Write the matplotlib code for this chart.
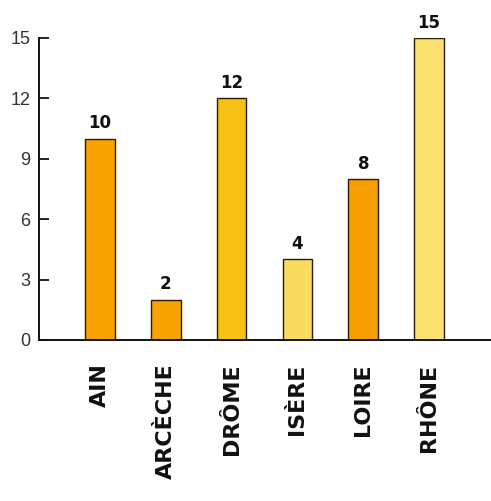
import matplotlib
matplotlib.use("Agg")
import matplotlib.pyplot as plt

categories = ["AIN", "ARCÈCHE", "DRÔME", "ISÈRE", "LOIRE", "RHÔNE"]
values = [10, 2, 12, 4, 8, 15]
colors = ["#F8A200", "#F7A400", "#F8C214", "#FADC5E", "#F79F00", "#FBE26E"]
yticks = [0, 3, 6, 9, 12, 15]

fig = plt.figure(figsize=(4.91, 5.01), dpi=100)
ax = fig.add_axes([39/491, 161/501, 452/491, 302/501])

x = list(range(len(categories)))
ax.bar(x, values, width=0.45, color=colors, edgecolor="#2a1a00", linewidth=1.0, zorder=2)

for xi, v in zip(x, values):
    ax.annotate(str(v), (xi, v), xytext=(0, 4.5), textcoords="offset points",
                ha="center", va="bottom", fontsize=12, fontweight="bold",
                family="DejaVu Sans", color="#111111", annotation_clip=False)

ax.set_xlim(-0.927, 5.94)
ax.set_ylim(0, 15)
ax.set_yticks(yticks)
ax.set_yticklabels([str(t) for t in yticks], fontsize=13, color="#333333",
                   family="Liberation Sans")
ax.set_xticks(x)
ax.set_xticklabels(categories, rotation=90, fontsize=16, fontweight="bold",
                   family="DejaVu Sans", color="#111111")
ax.tick_params(axis="x", length=0, pad=17)
ax.tick_params(axis="y", direction="in", length=7, width=1.3, pad=6, color="#111111")

for s in ["top", "right"]:
    ax.spines[s].set_visible(False)
for s in ["left", "bottom"]:
    ax.spines[s].set_linewidth(1.4)
    ax.spines[s].set_color("#111111")
ax.patch.set_alpha(0)

fig.savefig("out.png", dpi=100)
